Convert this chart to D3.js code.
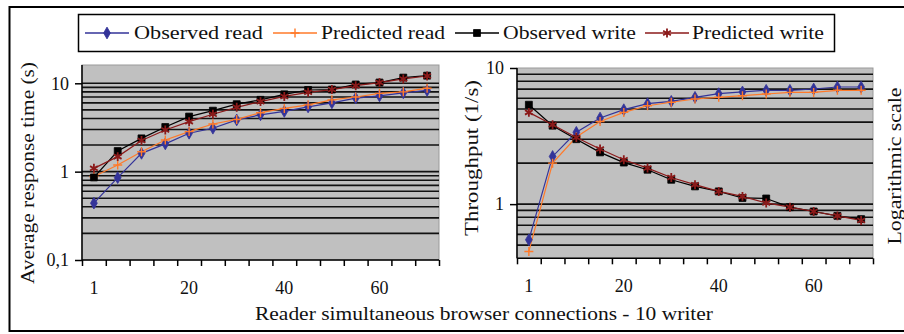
<!DOCTYPE html>
<html>
<head>
<meta charset="utf-8">
<script src="https://d3js.org/d3.v7.min.js"></script>
<style>
  body { margin: 0; background: #fff; }
  text { font-family: "Liberation Serif", "Times New Roman", serif; fill: #111; }
</style>
</head>
<body>
<svg id="chart" width="904" height="334"></svg>
<script>
// categories: reader connections (10 writers)
var categories = [1, 5, 10, 15, 20, 25, 30, 35, 40, 45, 50, 55, 60, 65, 70];
var xTickLabels = ["1", "20", "40", "60"];

// left: average response time (s)
var obsReadRt   = [0.44, 0.855, 1.61, 2.06, 2.72, 3.1, 3.85, 4.4, 4.8, 5.4, 6.0, 6.8, 7.2, 7.8, 8.3];
var predReadRt  = [0.88, 1.19, 1.68, 2.28, 2.84, 3.46, 3.9, 4.65, 5.2, 5.7, 6.5, 7.0, 7.7, 8.0, 8.8];
var obsWriteRt  = [0.86, 1.71, 2.38, 3.2, 4.2, 4.9, 5.8, 6.5, 7.5, 8.4, 8.5, 9.7, 10.2, 11.6, 12.2];
var predWriteRt = [1.09, 1.48, 2.25, 2.96, 3.68, 4.46, 5.35, 6.2, 7.1, 7.9, 8.5, 9.4, 10.2, 11.2, 12.1];
var rtTicks = [0.1, 1, 10];
var rtTickLabels = ["0,1", "1", "10"];

// right: throughput (1/s)
var obsReadTp   = [0.547, 2.24, 3.37, 4.29, 4.94, 5.47, 5.69, 6.09, 6.48, 6.67, 6.86, 6.86, 7.01, 7.25, 7.25];
var predReadTp  = [0.449, 2.0, 3.11, 4.05, 4.72, 5.28, 5.6, 5.92, 6.09, 6.26, 6.44, 6.62, 6.62, 6.86, 6.86];
var obsWriteTp  = [5.37, 3.77, 3.0, 2.4, 2.02, 1.79, 1.51, 1.35, 1.24, 1.11, 1.10, 0.95, 0.883, 0.82, 0.776];
var predWriteTp = [4.72, 3.83, 3.09, 2.54, 2.12, 1.84, 1.57, 1.39, 1.24, 1.14, 1.02, 0.95, 0.883, 0.82, 0.759];
var tpTicks = [1, 10];
var tpTickLabels = ["1", "10"];

var seriesNames = ["Observed read", "Predicted read", "Observed write", "Predicted write"];
var colors = ["#333399", "#ff7a2a", "#000000", "#8b1a1a"];
var symbols = [d3.symbolDiamond, d3.symbolCross, d3.symbolSquare, d3.symbolAsterisk];

var svg = d3.select("#chart");

// outer frame
svg.append("rect").attr("x", 9.5).attr("y", 7).attr("width", 910).attr("height", 324)
  .attr("fill", "none").attr("stroke", "#000").attr("stroke-width", 2);

// legend
var legend = svg.append("g");
legend.append("rect").attr("x", 78.5).attr("y", 14.5).attr("width", 756).attr("height", 37)
  .attr("fill", "#fff").attr("stroke", "#000").attr("stroke-width", 1.5);
var legendX = [85, 273, 455, 645];
var legendTextX = [134, 321, 503, 692];
var legendTextW = [129, 124, 133, 132];
seriesNames.forEach(function (name, i) {
  legend.append("line").attr("x1", legendX[i]).attr("x2", legendX[i] + 44)
    .attr("y1", 33).attr("y2", 33).attr("stroke", colors[i]).attr("stroke-width", 1.3);
  drawMarker(legend, i, legendX[i] + 22, 33);
  legend.append("text").attr("x", legendTextX[i]).attr("y", 39)
    .attr("font-size", 19).attr("textLength", legendTextW[i]).attr("lengthAdjust", "spacingAndGlyphs")
    .text(name);
});

function drawMarker(g, i, x, y) {
  var sizes = [40, 40, 48, 56];
  var p = g.append("path")
    .attr("d", d3.symbol().type(symbols[i]).size(sizes[i])())
    .attr("transform", "translate(" + x + "," + y + ")");
  if (i === 1 || i === 3) {
    p.attr("fill", "none").attr("stroke", colors[i]).attr("stroke-width", i === 3 ? 1.8 : 1.4);
    if (i === 1) p.attr("d", "M-4.5,0H4.5M0,-4.5V4.5");
  } else {
    p.attr("fill", colors[i]).attr("stroke", colors[i]).attr("stroke-width", 0.8);
  }
}

function panel(opts) {
  var g = svg.append("g");
  var x = d3.scaleBand().domain(categories).range([opts.x0, opts.x1]);
  var xb = d3.scaleLinear().domain([0, categories.length]).range([opts.x0, opts.x1]);
  var y = d3.scaleLog().domain(opts.yDomain).range([opts.yBottom, opts.yDomainTop]);

  // plot area
  g.append("rect").attr("x", opts.x0).attr("y", opts.yTop)
    .attr("width", opts.x1 - opts.x0).attr("height", opts.yBottom - opts.yTop)
    .attr("fill", "#c0c0c0").attr("stroke", "#9a9a9a").attr("stroke-width", 1);

  // gridlines
  g.selectAll("line.grid").data(opts.grid).enter().append("line")
    .attr("class", "grid")
    .attr("x1", opts.x0).attr("x2", opts.x1)
    .attr("y1", function (d) { return y(d); }).attr("y2", function (d) { return y(d); })
    .attr("stroke", "#111").attr("stroke-width", 1.6);

  // y axis
  var ya = g.append("g").attr("transform", "translate(" + opts.x0 + ",0)")
    .call(d3.axisLeft(y).tickValues(opts.ticks).tickSize(7).tickPadding(6)
      .tickFormat(function (d, i) { return opts.tickLabels[i]; }));
  ya.select(".domain").attr("stroke", "#000").attr("stroke-width", 1.5)
    .attr("d", "M0," + opts.yBottom + "V" + opts.yTop);
  ya.selectAll(".tick line").attr("stroke", "#000").attr("stroke-width", 1.5);
  ya.selectAll(".tick text").attr("font-size", 18).attr("font-family", "Liberation Serif").attr("fill", "#111");

  // x axis: boundary ticks
  var xa = g.append("g").attr("transform", "translate(0," + opts.yBottom + ")")
    .call(d3.axisBottom(xb).tickValues(d3.range(categories.length + 1)).tickSize(6).tickFormat(""));
  xa.select(".domain").attr("stroke", "#000").attr("stroke-width", 1.5).attr("d", "M" + opts.x0 + ",0H" + opts.x1);
  xa.selectAll(".tick line").attr("stroke", "#000").attr("stroke-width", 1.5);

  // x labels every 4th category
  g.selectAll("text.xl").data(xTickLabels).enter().append("text")
    .attr("class", "xl")
    .attr("x", function (d, i) { return x(categories[i * 4]) + x.bandwidth() / 2; })
    .attr("y", opts.yBottom + 34)
    .attr("text-anchor", "middle").attr("font-size", 18)
    .text(function (d) { return d; });

  // series
  var line = d3.line()
    .x(function (d, i) { return x(categories[i]) + x.bandwidth() / 2; })
    .y(function (d) { return y(d); });
  opts.series.forEach(function (s, si) {
    g.append("path").datum(s).attr("d", line)
      .attr("fill", "none").attr("stroke", colors[si]).attr("stroke-width", 1.2);
  });
  opts.series.forEach(function (s, si) {
    s.forEach(function (v, i) {
      drawMarker(g, si, x(categories[i]) + x.bandwidth() / 2, y(v));
    });
  });

  // y title
  g.append("text")
    .attr("transform", "translate(" + opts.titleX + "," + opts.titleY + ") rotate(-90)")
    .attr("text-anchor", "middle").attr("font-size", 19)
    .attr("textLength", opts.titleLen).attr("lengthAdjust", "spacingAndGlyphs")
    .text(opts.title);
}

panel({
  x0: 82, x1: 439, yTop: 65, yBottom: 260, yDomainTop: 83.3,
  yDomain: [0.1, 10], ticks: rtTicks, tickLabels: rtTickLabels,
  grid: [0.2, 0.3, 0.4, 0.5, 0.6, 0.7, 0.8, 0.9, 1, 2, 3, 4, 5, 6, 7, 8, 9, 10],
  series: [obsReadRt, predReadRt, obsWriteRt, predWriteRt],
  title: "Average response time (s)", titleX: 34, titleY: 173, titleLen: 222
});

panel({
  x0: 517, x1: 873, yTop: 68, yBottom: 258.3, yDomainTop: 68,
  yDomain: [0.4, 10], ticks: tpTicks, tickLabels: tpTickLabels,
  grid: [0.5, 0.6, 0.7, 0.8, 0.9, 1, 2, 3, 4, 5, 6, 7, 8, 9],
  series: [obsReadTp, predReadTp, obsWriteTp, predWriteTp],
  title: "Throughput (1/s)", titleX: 478, titleY: 158, titleLen: 156
});

// right-side note
svg.append("text")
  .attr("transform", "translate(901,166) rotate(-90)")
  .attr("text-anchor", "middle").attr("font-size", 19)
  .attr("textLength", 157).attr("lengthAdjust", "spacingAndGlyphs")
  .text("Logarithmic scale");

// x title
svg.append("text").attr("x", 484).attr("y", 320)
  .attr("text-anchor", "middle").attr("font-size", 19)
  .attr("textLength", 458).attr("lengthAdjust", "spacingAndGlyphs")
  .text("Reader simultaneous browser connections - 10 writer");
</script>
</body>
</html>
